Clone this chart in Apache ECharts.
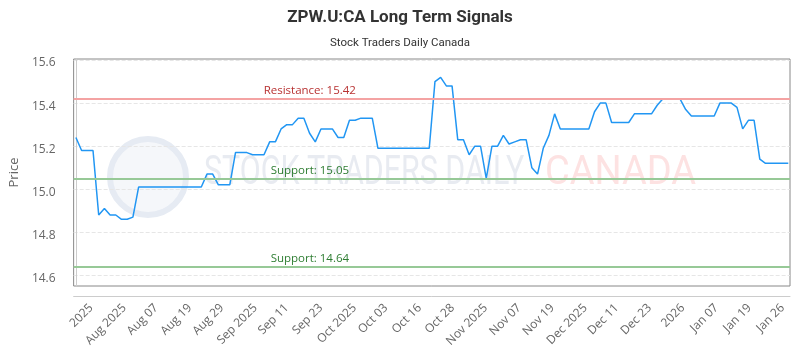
<!DOCTYPE html>
<html>
<head>
<meta charset="utf-8">
<script src="https://cdn.jsdelivr.net/npm/echarts@6/dist/echarts.min.js"></script>
<style>
html, body { margin: 0; padding: 0; background: #fff; }
#chart { width: 800px; height: 350px; }
</style>
</head>
<body>
<div id="chart"></div>
<script>
// closing prices, one per trading day
const prices = [
  15.24, 15.18, 15.18, 15.18, 14.88, 14.91, 14.88, 14.88, 14.86, 14.86, 14.87,
  15.01, 15.01, 15.01, 15.01, 15.01, 15.01, 15.01, 15.01, 15.01, 15.01, 15.01, 15.01,
  15.07, 15.07, 15.02, 15.02, 15.02, 15.17, 15.17, 15.17, 15.16, 15.16, 15.16,
  15.22, 15.22, 15.28, 15.30, 15.30, 15.33, 15.33, 15.26, 15.22, 15.28, 15.28, 15.28,
  15.24, 15.24, 15.32, 15.32, 15.33, 15.33, 15.33,
  15.19, 15.19, 15.19, 15.19, 15.19, 15.19, 15.19, 15.19, 15.19, 15.19,
  15.50, 15.52, 15.48, 15.48, 15.23, 15.23, 15.16, 15.20, 15.20, 15.05, 15.20, 15.20,
  15.25, 15.21, 15.22, 15.23, 15.23, 15.10, 15.07, 15.19, 15.25, 15.35,
  15.28, 15.28, 15.28, 15.28, 15.28, 15.28,
  15.36, 15.40, 15.40,
  15.31, 15.31, 15.31, 15.31,
  15.35, 15.35, 15.35, 15.35,
  15.39,
  15.42, 15.42, 15.42, 15.42,
  15.37,
  15.34, 15.34, 15.34, 15.34, 15.34,
  15.40, 15.40, 15.40,
  15.38, 15.28, 15.32, 15.32, 15.14,
  15.12, 15.12, 15.12, 15.12, 15.12
];

// x-axis tick labels and where they sit (in trading-day index)
const tickLabels = ["2025", "Aug 2025", "Aug 07", "Aug 19", "Aug 29", "Sep 2025", "Sep 11", "Sep 23",
  "Oct 2025", "Oct 03", "Oct 16", "Oct 28", "Nov 2025", "Nov 07", "Nov 19", "Dec 2025",
  "Dec 11", "Dec 23", "2026", "Jan 07", "Jan 19", "Jan 26"];
const tickPos = [2.7, 8.5, 14.1, 20.0, 25.6, 31.5, 37.0, 43.0, 48.9, 54.4, 60.3, 66.1,
  71.9, 77.8, 83.6, 89.4, 94.9, 100.7, 106.5, 112.4, 118.2, 124.0];

const yTicks = [14.6, 14.8, 15.0, 15.2, 15.4, 15.6];

const levelNames = ["Resistance", "Support", "Support"];
const levelValues = [15.42, 15.05, 14.64];

let seriesData = prices.map((v, i) => [i, v]);

let levelLines = levelValues.map((v, i) => {
  let isRes = levelNames[i] === "Resistance";
  return {
    name: levelNames[i],
    yAxis: v,
    lineStyle: { color: isRes ? "#f4a3a3" : "#97c997", width: 2, type: "solid" },
    label: {
      color: isRes ? "#b83232" : "#2e7d32",
      distance: [isRes ? 190 : 197, 2],
    },
  };
});

let myChart = echarts.init(document.getElementById("chart"));

let option = {
  animation: false,
  title: [
    {
      text: "ZPW.U:CA Long Term Signals",
      left: "center",
      top: 4,
      textStyle: { color: "#333", fontSize: 17, fontWeight: "bold", fontFamily: "Roboto" },
    },
    {
      text: "Stock Traders Daily Canada",
      left: "center",
      top: 32,
      textStyle: { color: "#333", fontSize: 11.5, fontWeight: "normal", fontFamily: "Roboto" },
    },
  ],
  graphic: [
    {
      type: "circle",
      z: 0,
      silent: true,
      shape: { cx: 148, cy: 177, r: 38 },
      style: { fill: "rgba(225,232,242,0.35)", stroke: "#e6ebf3", lineWidth: 6 },
    },
    {
      type: "text",
      z: 0,
      silent: true,
      x: 204,
      y: 154,
      scaleX: 0.76,
      style: { text: "STOCK TRADERS DAILY", fill: "#e8ebf1", fontSize: 40, fontFamily: "Roboto" },
    },
    {
      type: "text",
      z: 0,
      silent: true,
      x: 545,
      y: 154,
      scaleX: 0.95,
      style: { text: "CANADA", fill: "#fde2e2", fontSize: 40, fontFamily: "Roboto" },
    },
  ],
  grid: {
    left: 70,
    right: 10,
    top: 59,
    bottom: 64,
    show: true,
    borderColor: "#888",
    borderWidth: 1,
  },
  xAxis: {
    type: "value",
    min: -0.4,
    max: 125.3,
    offset: 10,
    axisLine: { show: true, lineStyle: { color: "#ccc" } },
    axisTick: { show: false },
    splitLine: { show: false },
    axisLabel: {
      customValues: tickPos,
      rotate: 45,
      margin: 10,
      color: "#666",
      fontSize: 12,
      fontFamily: "Open Sans",
      formatter: (val) => {
        let k = tickPos.indexOf(val);
        return k >= 0 ? tickLabels[k] : "";
      },
    },
  },
  yAxis: {
    type: "value",
    min: 14.55,
    max: 15.605,
    offset: 10,
    name: "Price",
    nameLocation: "middle",
    nameGap: 42,
    nameTextStyle: { color: "#666", fontSize: 13, fontFamily: "Open Sans" },
    axisLine: { show: true, lineStyle: { color: "#ccc" } },
    axisTick: { show: false, customValues: yTicks },
    axisLabel: {
      customValues: yTicks,
      margin: 8,
      color: "#666",
      fontSize: 12,
      fontFamily: "Open Sans",
      formatter: (v) => "{a|" + v.toFixed(1) + "}",
      rich: { a: { color: "#666", fontSize: 12, fontFamily: "Open Sans", padding: [6, 0, 0, 0] } },
    },
    splitLine: { show: true, lineStyle: { color: "#e6e6e6", type: "dashed" } },
  },
  series: [
    {
      name: "Price",
      type: "line",
      data: seriesData,
      symbol: "none",
      z: 3,
      lineStyle: { color: "#2196f3", width: 1.5 },
      markLine: {
        silent: true,
        symbol: "none",
        label: {
          position: "insideStartTop",
          fontSize: 11.5,
          fontFamily: "Open Sans",
          formatter: (p) => p.name + ": " + p.value.toFixed(2),
        },
        data: levelLines,
      },
    },
  ],
};

myChart.setOption(option);
</script>
</body>
</html>
